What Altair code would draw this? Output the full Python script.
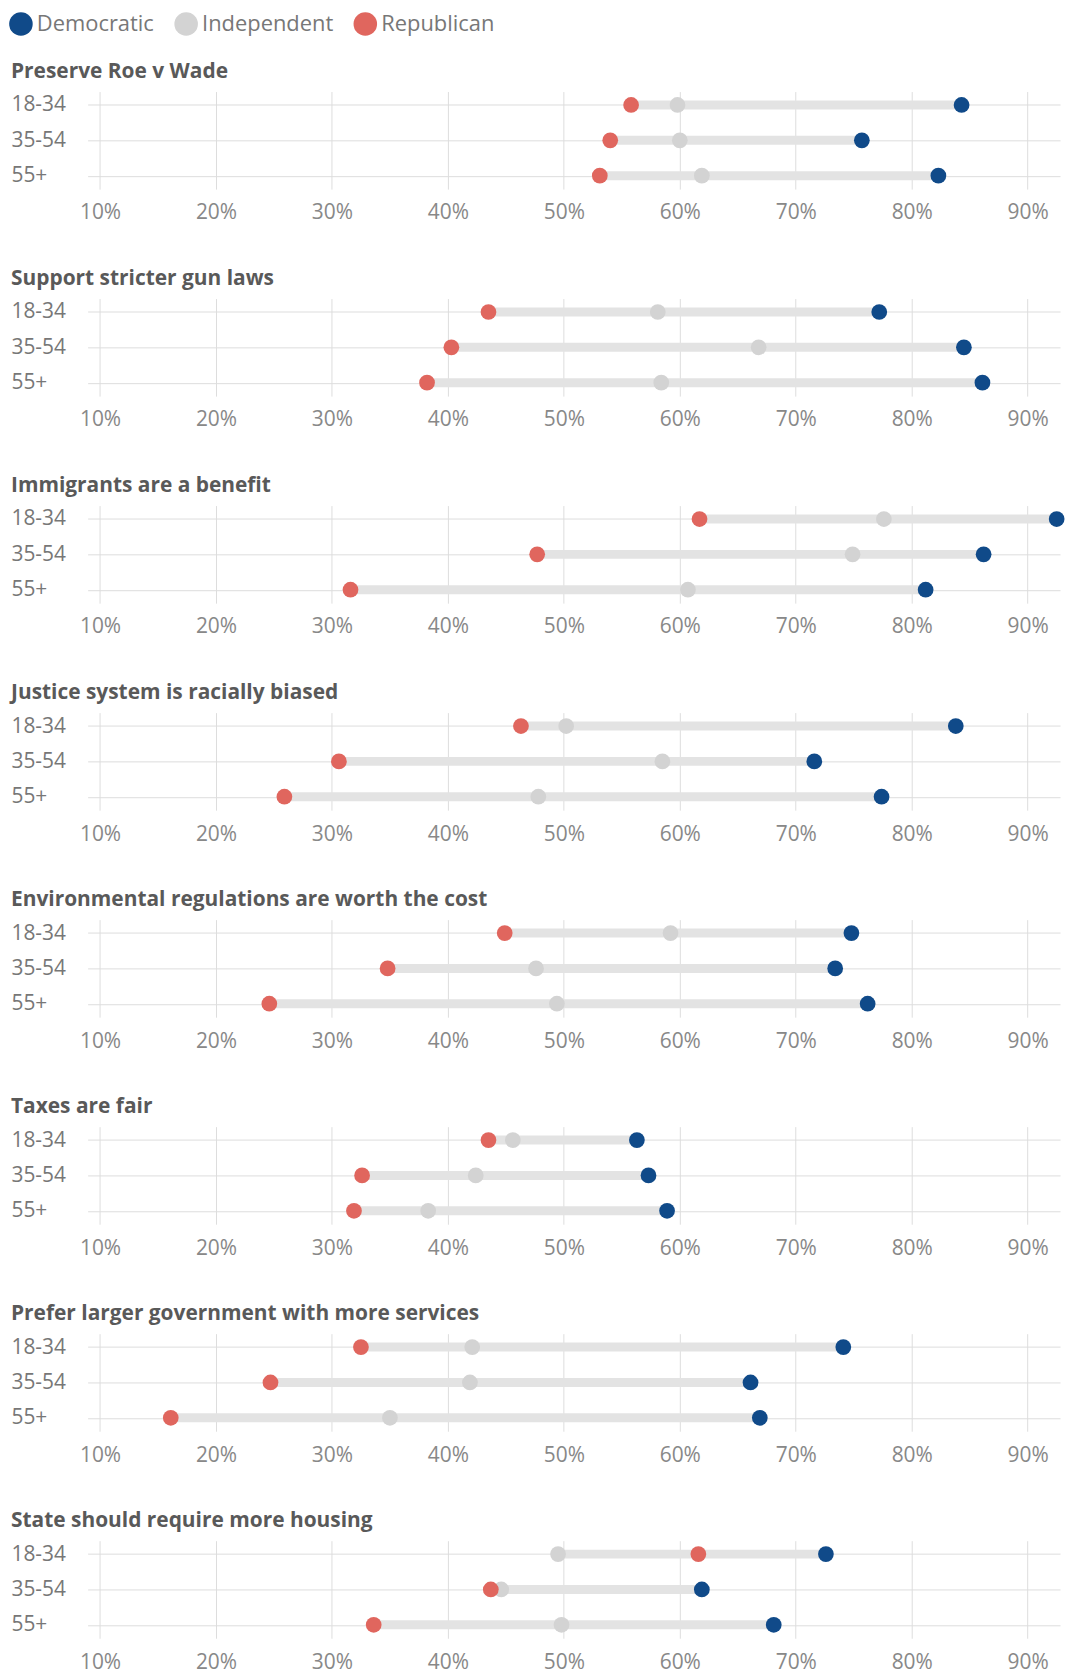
import altair as alt
import pandas as pd

questions = [
    "Preserve Roe v Wade",
    "Support stricter gun laws",
    "Immigrants are a benefit",
    "Justice system is racially biased",
    "Environmental regulations are worth the cost",
    "Taxes are fair",
    "Prefer larger government with more services",
    "State should require more housing",
]
ages = ["18-34", "35-54", "55+"]
parties = ["Democratic", "Independent", "Republican"]
party_colors = ["#104a89", "#d3d3d3", "#e0665e"]

democratic = [
    [84.3, 75.7, 82.3],
    [77.2, 84.5, 86.1],
    [92.5, 86.2, 81.2],
    [83.8, 71.6, 77.4],
    [74.8, 73.4, 76.2],
    [56.3, 57.3, 58.9],
    [74.1, 66.1, 66.9],
    [72.6, 61.9, 68.1],
]
independent = [
    [59.8, 60.0, 61.9],
    [58.1, 66.8, 58.4],
    [77.6, 74.9, 60.7],
    [50.2, 58.5, 47.8],
    [59.2, 47.6, 49.4],
    [45.6, 42.4, 38.3],
    [42.1, 41.9, 35.0],
    [49.5, 44.6, 49.8],
]
republican = [
    [55.8, 54.0, 53.1],
    [43.5, 40.3, 38.2],
    [61.7, 47.7, 31.6],
    [46.3, 30.6, 25.9],
    [44.9, 34.8, 24.6],
    [43.5, 32.6, 31.9],
    [32.5, 24.7, 16.1],
    [61.6, 43.7, 33.6],
]
x_ticks = [10, 20, 30, 40, 50, 60, 70, 80, 90]

rows = []
for qi, q in enumerate(questions):
    for ai, a in enumerate(ages):
        rows.append({"question": q, "age": a, "party": "Independent", "value": independent[qi][ai], "ord": 0})
        rows.append({"question": q, "age": a, "party": "Democratic", "value": democratic[qi][ai], "ord": 1})
        rows.append({"question": q, "age": a, "party": "Republican", "value": republican[qi][ai], "ord": 2})
df = pd.DataFrame(rows)

FONT = "Open Sans"
PLOT_W = 977
PLOT_H = 98
x_domain = [8.93, 92.79]


def panel(q):
    base = alt.Chart(df).transform_filter(alt.datum.question == q)
    y = alt.Y(
        "age:N",
        sort=ages,
        scale=alt.Scale(type="point", padding=0.38),
        axis=alt.Axis(
            title=None,
            labelAlign="left",
            labelPadding=77,
            labelFontSize=21,
            labelColor="#777777",
            labelFont=FONT,
            grid=True,
            gridColor="#dddddd",
            gridWidth=1,
        ),
    )
    x = alt.X(
        "value:Q",
        scale=alt.Scale(domain=x_domain, nice=False, zero=False),
        axis=alt.Axis(
            title=None,
            values=x_ticks,
            labelExpr="datum.value + '%'",
            labelFontSize=21,
            labelColor="#888888",
            labelFont=FONT,
            labelPadding=13,
            grid=True,
            gridColor="#dddddd",
            gridWidth=1,
        ),
    )
    bar = base.mark_rule(strokeWidth=9, color="#e3e3e3", strokeCap="butt").encode(
        y=y,
        x=alt.X("min(value):Q", scale=alt.Scale(domain=x_domain, nice=False, zero=False)),
        x2="max(value):Q",
    )
    dots = base.mark_circle(size=250, opacity=1).encode(
        x=x,
        y=y,
        order=alt.Order("ord:Q"),
        color=alt.Color(
            "party:N",
            scale=alt.Scale(domain=parties, range=party_colors),
            legend=alt.Legend(
                title=None,
                orient="none",
                legendX=-79,
                legendY=-80,
                direction="horizontal",
                symbolType="circle",
                symbolSize=560,
                symbolStrokeWidth=0,
                symbolOpacity=1,
                labelFontSize=22,
                labelColor="#777777",
                labelFont=FONT,
                labelOffset=4,
                columnPadding=20,
                padding=0,
            ),
        ),
    )
    return alt.layer(bar, dots).properties(
        width=PLOT_W,
        height=PLOT_H,
        title=alt.Title(
            q,
            anchor="start",
            frame="bounds",
            fontSize=21,
            fontWeight="bold",
            color="#595959",
            font=FONT,
            offset=10,
        ),
    )


chart = (
    alt.vconcat(*[panel(q) for q in questions], spacing=45)
    .properties(padding={"left": 1, "top": 0, "right": 0, "bottom": 0})
    .configure_view(stroke=None)
    .configure_axis(domain=False, ticks=False, tickSize=0)
)

chart.save("out.html", embed_options={"renderer": "svg", "actions": False})
